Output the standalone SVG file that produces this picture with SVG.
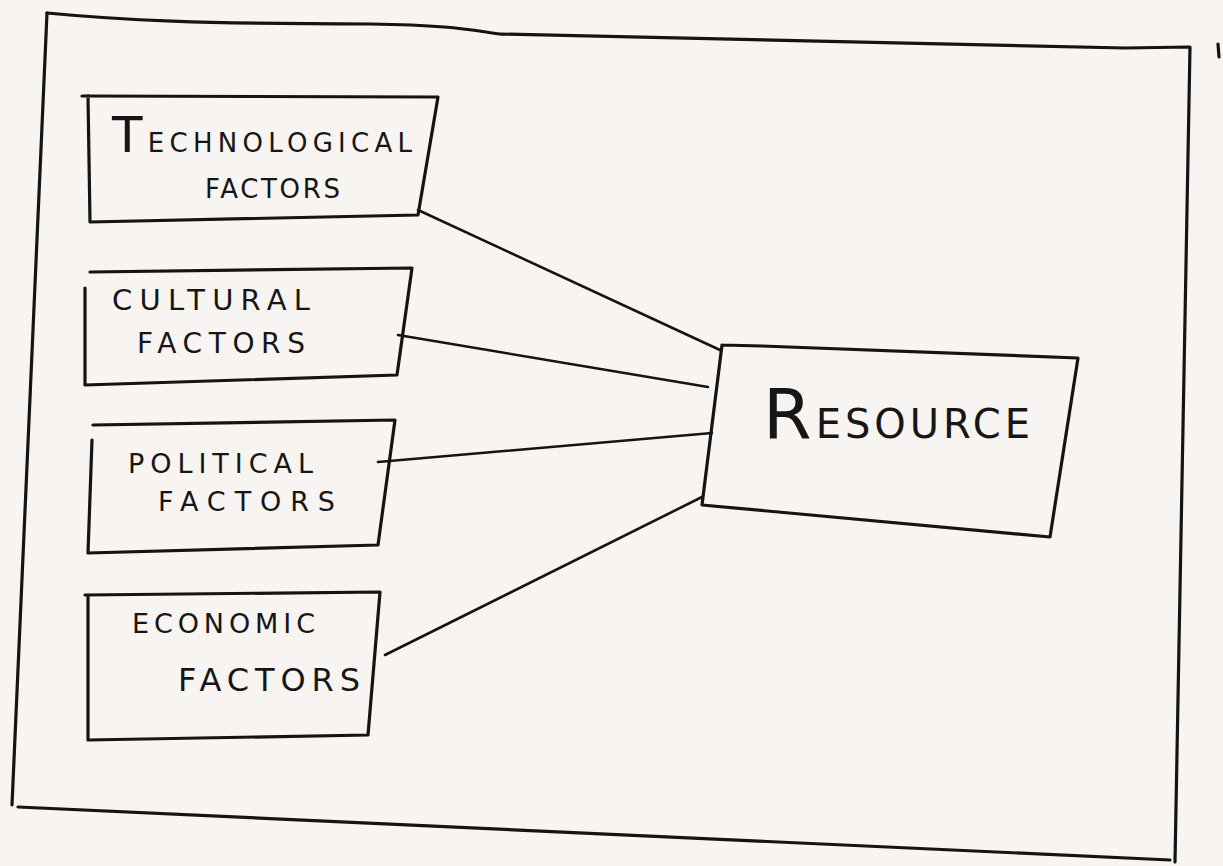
<svg xmlns="http://www.w3.org/2000/svg" width="1223" height="866" viewBox="0 0 1223 866">
<style>
.ink{fill:none;stroke:#141414;stroke-width:3.2;stroke-linejoin:round;stroke-linecap:round}
.lbl{font-family:"DejaVu Sans","Liberation Sans",sans-serif;fill:#161616;font-weight:normal}
.con{stroke:#141414;stroke-width:2.6;fill:none;stroke-linecap:round}
</style>
<rect width="1223" height="866" fill="#f7f4f2"/>
<g id="frame">
<path class="ink" d="M47,13 C120,20 200,24 370,24 C450,25 470,30 500,34 C700,40 900,44 1125,48 L1190,47 L1175,862"/>
<path class="ink" d="M47,13 L12,805"/>
<path class="ink" d="M18,807 L1170,860"/>
<path class="ink" d="M1218,44 L1219,57"/>
</g>
<g id="connectors">
<path class="con" d="M418,210 L720,350"/>
<path class="con" d="M398,335 L708,387"/>
<path class="con" d="M378,462 L712,433"/>
<path class="con" d="M385,655 L702,497"/>
</g>
<g id="technological">
<path class="ink" d="M82,96 L438,97 L418,215 L90,222 L88,96"/>
<text class="lbl" x="112" y="152" font-size="26" textLength="300" lengthAdjust="spacing"><tspan font-size="50">T</tspan>ECHNOLOGICAL</text>
<text class="lbl" x="205" y="198" font-size="26" textLength="135" lengthAdjust="spacing">FACTORS</text>
</g>
<g id="cultural">
<path class="ink" d="M90,272 L412,268 L397,375 L85,385 M85,288 L85,385"/>
<text class="lbl" x="112" y="310" font-size="29" textLength="198" lengthAdjust="spacing">CULTURAL</text>
<text class="lbl" x="137" y="353" font-size="28" textLength="168" lengthAdjust="spacing">FACTORS</text>
</g>
<g id="political">
<path class="ink" d="M93,425 L395,420 L378,545 L88,553 M92,440 L88,553"/>
<text class="lbl" x="128" y="473" font-size="27" textLength="185" lengthAdjust="spacing">POLITICAL</text>
<text class="lbl" x="158" y="511" font-size="27" textLength="177" lengthAdjust="spacing">FACTORS</text>
</g>
<g id="economic">
<path class="ink" d="M85,595 L380,592 L368,735 L88,740 L88,595"/>
<text class="lbl" x="132" y="633" font-size="27" textLength="183" lengthAdjust="spacing">ECONOMIC</text>
<text class="lbl" x="178" y="691" font-size="32" textLength="182" lengthAdjust="spacing">FACTORS</text>
</g>
<g id="resource">
<path class="ink" d="M722,345 L762,346 L1078,358 L1050,537 L702,505 L722,345"/>
<text class="lbl" x="763" y="438" font-size="40" textLength="267" lengthAdjust="spacing"><tspan font-size="70">R</tspan>ESOURCE</text>
</g>
</svg>
